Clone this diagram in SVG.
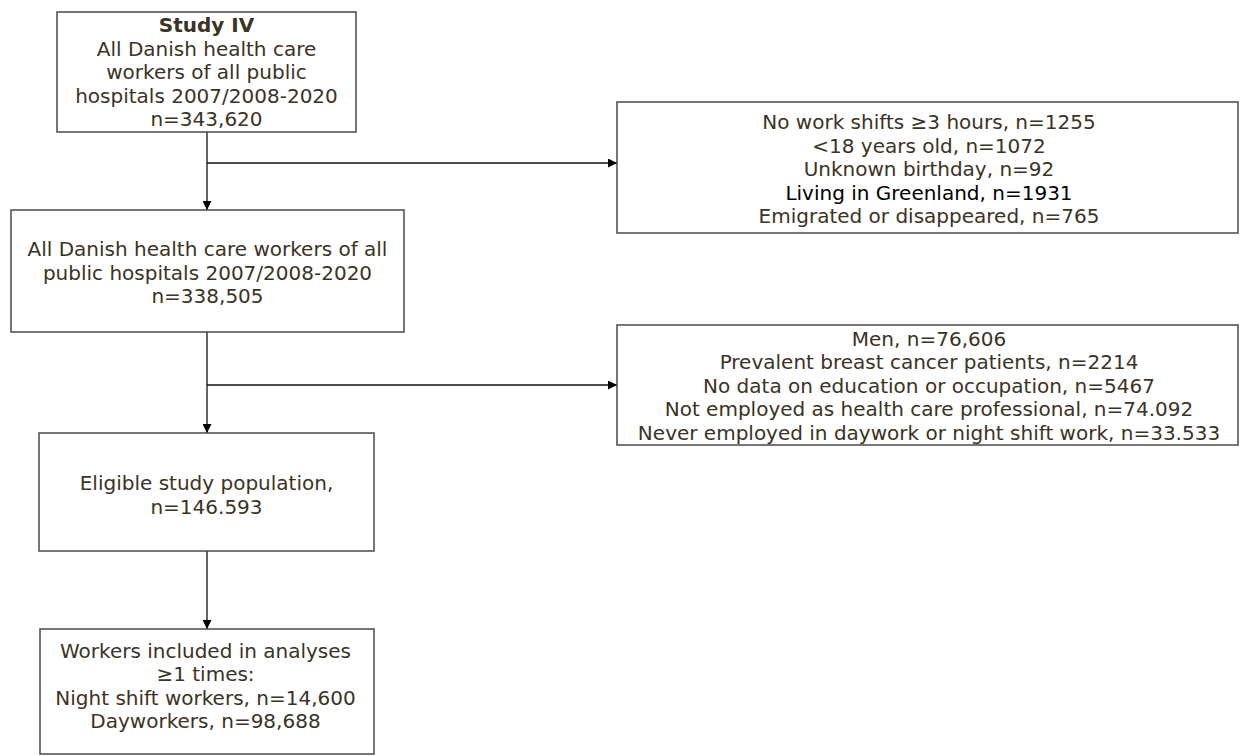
<svg xmlns="http://www.w3.org/2000/svg" width="1241" height="756" viewBox="0 0 1241 756">
<style>
.box{fill:#fff;stroke:#4a4a4a;stroke-width:1.5}
.t{font-family:"DejaVu Sans",Verdana,sans-serif;font-size:20px;fill:#3b3324;text-anchor:middle}
.b{font-weight:bold}
.k{fill:#000}
.c{stroke:#111;stroke-width:1.3;fill:none}
</style>
<defs>
<marker id="ah" viewBox="0 0 10 10" refX="10" refY="5" markerWidth="9" markerHeight="9" markerUnits="userSpaceOnUse" orient="auto">
<path d="M0,0 L10,5 L0,10 z" fill="#000"/>
</marker>
</defs>
<rect width="1241" height="756" fill="#fff"/>
<g id="connectors">
<line class="c" x1="207" y1="132" x2="207" y2="210" marker-end="url(#ah)"/>
<line class="c" x1="207" y1="163" x2="617" y2="163" marker-end="url(#ah)"/>
<line class="c" x1="207" y1="332" x2="207" y2="433" marker-end="url(#ah)"/>
<line class="c" x1="207" y1="385" x2="617" y2="385" marker-end="url(#ah)"/>
<line class="c" x1="207" y1="551" x2="207" y2="629" marker-end="url(#ah)"/>
</g>
<g id="study">
<rect class="box" x="57" y="12" width="299" height="120"/>
<text class="t b" x="206.5" y="32">Study IV</text>
<text class="t" x="206.5" y="55.5">All Danish health care</text>
<text class="t" x="206.5" y="79">workers of all public</text>
<text class="t" x="206.5" y="102.5">hospitals 2007/2008-2020</text>
<text class="t" x="206.5" y="126">n=343,620</text>
</g>
<g id="excl1">
<rect class="box" x="617" y="102" width="621" height="131"/>
<text class="t" x="929" y="129">No work shifts ≥3 hours, n=1255</text>
<text class="t" x="929" y="152.5">&lt;18 years old, n=1072</text>
<text class="t" x="929" y="176">Unknown birthday, n=92</text>
<text class="t k" x="929" y="199.5">Living in Greenland, n=1931</text>
<text class="t" x="929" y="223">Emigrated or disappeared, n=765</text>
</g>
<g id="all">
<rect class="box" x="11" y="210" width="393" height="122"/>
<text class="t" x="207.5" y="256">All Danish health care workers of all</text>
<text class="t" x="207.5" y="279.5">public hospitals 2007/2008-2020</text>
<text class="t" x="207.5" y="303">n=338,505</text>
</g>
<g id="excl2">
<rect class="box" x="617" y="325" width="621" height="120"/>
<text class="t" x="929" y="345.5">Men, n=76,606</text>
<text class="t" x="929" y="369">Prevalent breast cancer patients, n=2214</text>
<text class="t" x="929" y="392.5">No data on education or occupation, n=5467</text>
<text class="t" x="929" y="416">Not employed as health care professional, n=74.092</text>
<text class="t" x="929" y="439.5">Never employed in daywork or night shift work, n=33.533</text>
</g>
<g id="eligible">
<rect class="box" x="39" y="433" width="335" height="118"/>
<text class="t" x="206.5" y="490">Eligible study population,</text>
<text class="t" x="206.5" y="513.5">n=146.593</text>
</g>
<g id="included">
<rect class="box" x="40" y="629" width="334" height="125"/>
<text class="t" x="205.5" y="658">Workers included in analyses</text>
<text class="t" x="205.5" y="681">≥1 times:</text>
<text class="t" x="205.5" y="704.5">Night shift workers, n=14,600</text>
<text class="t" x="205.5" y="728">Dayworkers, n=98,688</text>
</g>
</svg>
